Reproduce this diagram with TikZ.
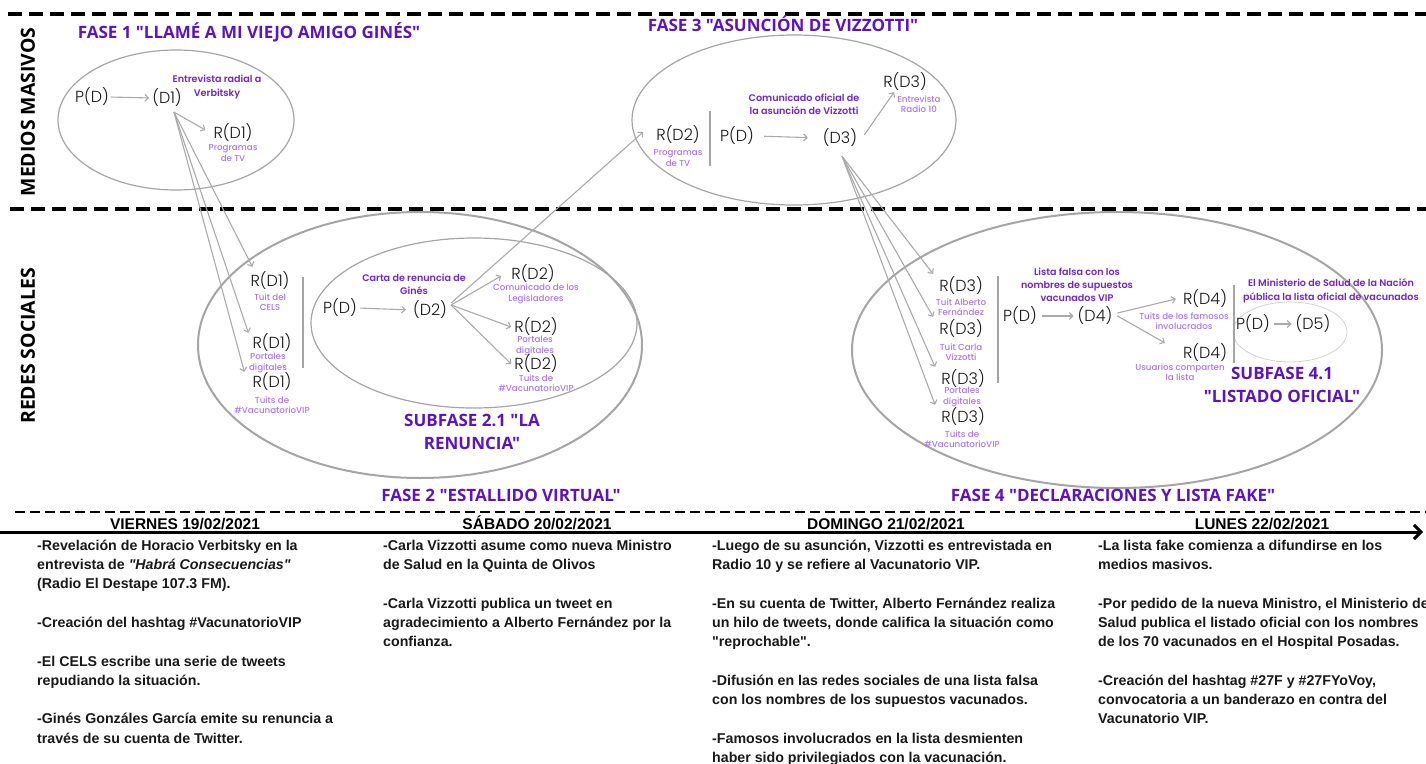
\documentclass[tikz,border=0pt]{standalone}
\usepackage{fontspec}
\setmainfont{Liberation Sans}
\newfontfamily\bodyf{Liberation Sans}
\newfontfamily\popp{Poppins}
\IfFontExistsTF{Poppins Light}{\newfontfamily\poppl{Poppins Light}}{\newfontfamily\poppl{Poppins}}
\IfFontExistsTF{Poppins Medium}{\newfontfamily\poppm{Poppins Medium}}{\newfontfamily\poppm{Poppins}[FakeBold=0.6]}
\IfFontExistsTF{Poppins SemiBold}{\newfontfamily\poppsb{Poppins SemiBold}}{\newfontfamily\poppsb{Poppins}[FakeBold=1.2]}
\IfFontExistsTF{Open Sans ExtraBold}{\newfontfamily\opsx{Open Sans ExtraBold}\def\xsz{16.4}}{\newfontfamily\opsx{Open Sans}[UprightFont=*-Bold]\def\xsz{17}}
\usetikzlibrary{arrows.meta}
\definecolor{ttl}{RGB}{92,20,192}
\definecolor{dpur}{RGB}{112,40,205}
\definecolor{lav}{RGB}{172,118,240}
\definecolor{elg}{RGB}{165,165,165}
\definecolor{arg}{RGB}{170,170,170}
\definecolor{txt}{RGB}{25,25,25}
\begin{document}
\begin{tikzpicture}[x=1pt,y=-1pt,
 rn/.style={font=\poppl\fontsize{16}{18}\selectfont, text=txt, inner sep=1pt},
 lv/.style={font=\poppm\fontsize{8.7}{10.6}\selectfont, text=lav, align=center, inner sep=0pt},
 dl/.style={font=\poppsb\fontsize{9.6}{13.2}\selectfont, text=dpur, align=center, inner sep=0pt},
 ttlst/.style={font=\opsx\fontsize{\xsz}{23}\selectfont, text=ttl, align=center, inner sep=0pt},
 side/.style={font=\opsx\fontsize{19.4}{24}\selectfont, rotate=90, inner sep=0pt},
 datest/.style={font=\bodyf\bfseries\fontsize{15.5}{18}\selectfont, inner sep=0pt, anchor=base},
 body/.style={font=\bodyf\bfseries\fontsize{14.2}{19.3}\selectfont, text=txt, align=left, anchor=north west, inner sep=0pt},
 arr/.style={draw=arg, line width=1.1pt, -{Straight Barb[length=3.5pt,width=7pt]}},
 ell/.style={draw=elg, line width=1.2pt},
 bigell/.style={draw=elg, line width=2pt},
 sep/.style={draw=elg, line width=1.3pt},
 dsh/.style={line width=3.2pt, dash pattern=on 14pt off 7pt},
 dshb/.style={line width=2.8pt, dash pattern=on 10pt off 5pt},
]
\useasboundingbox (0,0) rectangle (1426,763);
\fill[white] (0,0) rectangle (1426,763);

% ---- horizontal guides
\draw[dsh] (8,14) -- (1426,14);
\draw[dsh] (10,209) -- (1426,209);
\draw[dshb] (15,512) -- (1426,512);
\draw[line width=3pt, -{Straight Barb[length=7pt,width=14pt]}] (0,532) -- (1423,532);

% ---- side labels
\node[side] (mm) at (28,112) {MEDIOS MASIVOS};
\node[side] (rs) at (28,346) {REDES SOCIALES};

% ---- ellipses
\draw[ell] (176,120) ellipse [x radius=118, y radius=70];
\draw[ell] (794,120) ellipse [x radius=162, y radius=85];
\draw[bigell] (420,345) ellipse [x radius=222, y radius=133];
\draw[ell] (474,323) ellipse [x radius=163, y radius=85];
\draw[bigell] (1117,350) ellipse [x radius=265, y radius=138];
\draw[draw=elg!50, line width=0.8pt] (1290,332) ellipse [x radius=57, y radius=30];

% ---- titles
\node[ttlst] (f1) at (249,32) {FASE 1 "LLAMÉ A MI VIEJO AMIGO GINÉS"};
\node[ttlst] (f3) at (783,24) {FASE 3 "ASUNCIÓN DE VIZZOTTI"};
\node[ttlst] (f2) at (501,495) {FASE 2 "ESTALLIDO VIRTUAL"};
\node[ttlst] (f4) at (1113,495) {FASE 4 "DECLARACIONES Y LISTA FAKE"};
\node[ttlst] (s21) at (472,432) {SUBFASE 2.1 "LA\\RENUNCIA"};
\node[ttlst] (s41) at (1282,385) {SUBFASE 4.1\\"LISTADO OFICIAL"};

% ---- Fase 1
\node[rn] (pd1) at (92,97) {P(D)};
\node[rn] (d1) at (167,98) {(D1)};
\node[dl] (ld1) at (217,87) {Entrevista radial a\\Verbitsky};
\node[rn] (rd1tv) at (233,133) {R(D1)};
\node[lv] (lrd1tv) at (233,153) {Programas\\de TV};

% ---- Redes R(D1)
\node[rn] (rd1a) at (270,281) {R(D1)};
\node[lv] (lrd1a) at (270,302) {Tuit del\\CELS};
\node[rn] (rd1b) at (272,343) {R(D1)};
\node[lv] (lrd1b) at (268,363) {Portales\\digitales};
\node[rn] (rd1c) at (272,382) {R(D1)};
\node[lv] (lrd1c) at (272,405) {Tuits de\\\#VacunatorioVIP};
\draw[sep] (303,277) -- (303,368);

% ---- Subfase 2.1
\node[rn] (pd2) at (340,308) {P(D)};
\node[rn] (d2) at (430,310) {(D2)};
\node[dl] (ld2) at (414,284) {Carta de renuncia de\\Ginés};
\node[rn] (rd2a) at (533,274) {R(D2)};
\node[lv] (lrd2a) at (536,294) {Comunicado de los\\Legisladores};
\node[rn] (rd2b) at (536,327) {R(D2)};
\node[lv] (lrd2b) at (535,346) {Portales\\digitales};
\node[rn] (rd2c) at (536,364) {R(D2)};
\node[lv] (lrd2c) at (536,383) {Tuits de\\\#VacunatorioVIP};

% ---- Fase 3
\node[rn] (rd2tv) at (678,135) {R(D2)};
\node[lv] (lrd2tv) at (678,158) {Programas\\de TV};
\draw[sep] (710,111) -- (710,166);
\node[rn] (pd3) at (737,136) {P(D)};
\node[rn] (d3) at (840,138) {(D3)};
\node[dl] (ld3) at (804,104) {Comunicado oficial de\\la asunción de Vizzotti};
\node[rn] (rd3r) at (905,82) {R(D3)};
\node[lv] (lrd3r) at (919,104) {Entrevista\\Radio 10};

% ---- Fase 4
\node[rn] (rd3a) at (961,286) {R(D3)};
\node[lv] (lrd3a) at (961,307) {Tuit Alberto\\Fernández};
\node[rn] (rd3b) at (961,329) {R(D3)};
\node[lv] (lrd3b) at (961,352) {Tuit Carla\\Vizzotti};
\node[rn] (rd3c) at (963,379) {R(D3)};
\node[lv] (lrd3c) at (962,397) {Portales\\digitales};
\node[rn] (rd3d) at (963,417) {R(D3)};
\node[lv] (lrd3d) at (962,439) {Tuits de\\\#VacunatorioVIP};
\draw[sep] (998,276) -- (998,383);
\node[rn] (pd4) at (1020,316) {P(D)};
\node[rn] (d4) at (1095,316) {(D4)};
\node[dl] (ld4) at (1077,285) {Lista falsa con los\\nombres de supuestos\\vacunados VIP};
\node[rn] (rd4a) at (1205,299) {R(D4)};
\node[lv] (lrd4a) at (1184,321) {Tuits de los famosos\\involucrados};
\node[rn] (rd4b) at (1205,353) {R(D4)};
\node[lv] (lrd4b) at (1180,372) {Usuarios comparten\\la lista};
\draw[sep] (1234,285) -- (1234,363);
\node[dl, font=\poppsb\fontsize{9.6}{14}\selectfont] (ld5) at (1331,291) {El Ministerio de Salud de la Nación\\pública la lista oficial de vacunados};
\node[rn] (pd5) at (1253,324) {P(D)};
\node[rn] (d5) at (1313,324) {(D5)};

% ---- connectors
\draw[arr, shorten <=1pt, shorten >=2pt] (pd1.east) -- (d1.west);
\draw[arr] ([xshift=7pt,yshift=-4pt]d1.south) -- ([xshift=-7pt,yshift=3pt]rd1tv.west);
\draw[arr] ([xshift=7pt,yshift=-4pt]d1.south) -- ([xshift=3pt,yshift=4pt]rd1a.north west);
\draw[arr] ([xshift=7pt,yshift=-4pt]d1.south) -- ([xshift=-3pt]rd1b.north west);
\draw[arr] ([xshift=7pt,yshift=-4pt]d1.south) -- ([xshift=-7pt]rd1c.north west);

\draw[arr, shorten <=2pt, shorten >=6pt] (pd2.east) -- (d2.west);
\draw[arr] ([xshift=3pt,yshift=5pt]d2.east) -- ([xshift=-9pt,yshift=-2pt]rd2a.west);
\draw[arr] ([xshift=3pt,yshift=5pt]d2.east) -- ([xshift=-2pt]rd2b.west);
\draw[arr] ([xshift=3pt,yshift=5pt]d2.east) -- ([xshift=-2pt]rd2c.west);
\draw[arr] ([xshift=3pt,yshift=7pt]d2.east) -- ([xshift=-12pt,yshift=3pt]rd2tv.west);

\draw[arr, shorten <=9pt, shorten >=14pt] (pd3.east) -- (d3.west);
\draw[arr] ([xshift=6pt,yshift=3pt]d3.east) -- ([xshift=12pt]rd3r.south west);
\draw[arr] ([xshift=2pt,yshift=-8pt]d3.south) -- ([xshift=-5pt,yshift=2pt]rd3a.north west);
\draw[arr] ([xshift=2pt,yshift=-8pt]d3.south) -- ([xshift=-5pt,yshift=2pt]rd3b.north west);
\draw[arr] ([xshift=2pt,yshift=-8pt]d3.south) -- ([xshift=-5pt,yshift=2pt]rd3c.north west);
\draw[arr] ([xshift=2pt,yshift=-8pt]d3.south) -- ([xshift=-5pt,yshift=2pt]rd3d.north west);

\draw[arr, shorten <=4pt, shorten >=3pt] (pd4.east) -- (d4.west);
\draw[arr] ([xshift=4pt,yshift=3pt]d4.east) -- ([xshift=-6pt]rd4a.west);
\draw[arr] ([xshift=4pt]d4.east) -- ([xshift=-17pt]rd4b.north west);
\draw[arr, shorten <=3pt, shorten >=3pt] (pd5.east) -- (d5.west);

% ---- timeline
\node[datest] (dt1) at (185,529) {VIERNES 19/02/2021};
\node[datest] (dt2) at (537,529) {SÁBADO 20/02/2021};
\node[datest] (dt3) at (886,529) {DOMINGO 21/02/2021};
\node[datest] (dt4) at (1262,529) {LUNES 22/02/2021};

\node[body] (c1) at (37,536.5) {\strut-Revelación de Horacio Verbitsky en la\\
entrevista de \textit{"Habrá Consecuencias"}\\
(Radio El Destape 107.3 FM).\\[19.3pt]
-Creación del hashtag \#VacunatorioVIP\\[19.3pt]
-El CELS escribe una serie de tweets\\
repudiando la situación.\\[19.3pt]
-Ginés Gonzáles García emite su renuncia a\\
través de su cuenta de Twitter.};

\node[body] (c2) at (383,536.5) {\strut-Carla Vizzotti asume como nueva Ministro\\
de Salud en la Quinta de Olivos\\[19.3pt]
-Carla Vizzotti publica un tweet en\\
agradecimiento a Alberto Fernández por la\\
confianza.};

\node[body] (c3) at (712,536.5) {\strut-Luego de su asunción, Vizzotti es entrevistada en\\
Radio 10 y se refiere al Vacunatorio VIP.\\[19.3pt]
-En su cuenta de Twitter, Alberto Fernández realiza\\
un hilo de tweets, donde califica la situación como\\
"reprochable".\\[19.3pt]
-Difusión en las redes sociales de una lista falsa\\
con los nombres de los supuestos vacunados.\\[19.3pt]
-Famosos involucrados en la lista desmienten\\
haber sido privilegiados con la vacunación.};

\node[body] (c4) at (1098,536.5) {\strut-La lista fake comienza a difundirse en los\\
medios masivos.\\[19.3pt]
-Por pedido de la nueva Ministro, el Ministerio de\\
Salud publica el listado oficial con los nombres\\
de los 70 vacunados en el Hospital Posadas.\\[19.3pt]
-Creación del hashtag \#27F y \#27FYoVoy,\\
convocatoria a un banderazo en contra del\\
Vacunatorio VIP.};
\end{tikzpicture}
\end{document}
